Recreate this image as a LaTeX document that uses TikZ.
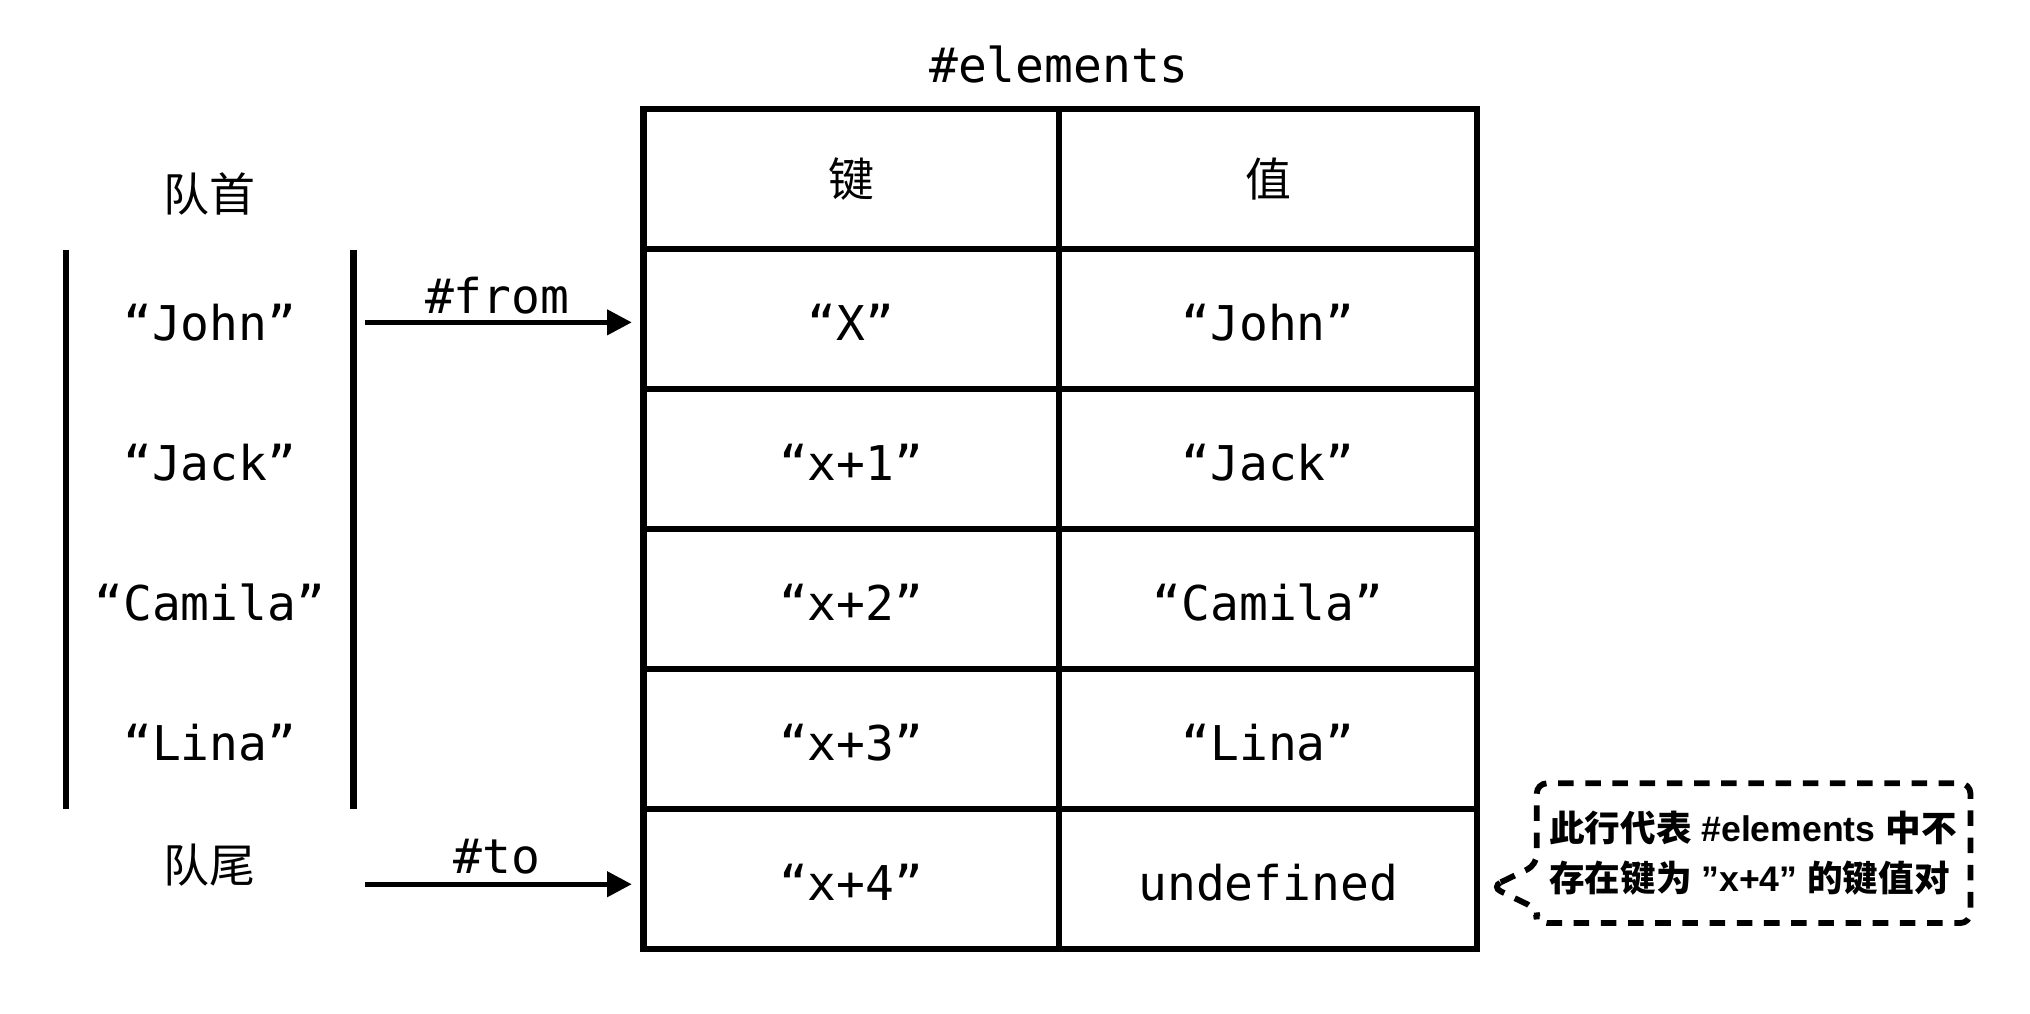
\documentclass[tikz,border=0pt]{standalone}
\usepackage{fontspec}
\setmonofont{DejaVu Sans Mono}
\setsansfont{Liberation Sans}
\newfontfamily\cjk{Noto Sans CJK SC}
\usetikzlibrary{arrows.meta}
\begin{document}
\begin{tikzpicture}[x=1pt,y=-1pt,
  mono/.style={font=\fontsize{37}{40}\selectfont\ttfamily},
  low/.style={text height=33pt, text depth=0pt},
  zh/.style={font=\fontsize{35.5}{40}\selectfont\cjk},
  cell/.style={draw, line width=5pt, minimum height=108.2pt, inner sep=0pt, outer sep=0pt, mono},
  kcell/.style={cell, minimum width=321pt},
  vcell/.style={cell, minimum width=323pt},
  bar/.style={line width=5pt},
  arr/.style={line width=3.9pt, -{Triangle[length=19pt,width=19pt]}, shorten >=9pt},
  note/.style={line width=4.5pt, dash pattern=on 12pt off 9pt, rounded corners=8pt},
  notetext/.style={font=\fontsize{27.5}{39}\selectfont\sffamily\bfseries, align=left, inner sep=0pt},
]
\useasboundingbox (0,0) rectangle (1568,783);

% title
\node[mono] (title) at (818,50) {\#elements};

% table
\node[kcell,zh] (k0) at (657.5,138.1) {键};
\node[vcell,zh] (v0) at (979.5,138.1) {值};
\node[kcell,low] (k1) at (657.5,246.3) {“X”};
\node[vcell,low] (v1) at (979.5,246.3) {“John”};
\node[kcell,low] (k2) at (657.5,354.5) {“x+1”};
\node[vcell,low] (v2) at (979.5,354.5) {“Jack”};
\node[kcell,low] (k3) at (657.5,462.7) {“x+2”};
\node[vcell,low] (v3) at (979.5,462.7) {“Camila”};
\node[kcell,low] (k4) at (657.5,570.9) {“x+3”};
\node[vcell,low] (v4) at (979.5,570.9) {“Lina”};
\node[kcell,low] (k5) at (657.5,679.1) {“x+4”};
\node[vcell,low] (v5) at (979.5,679.1) {undefined};

% queue
\node[zh] (head) at (162,150) {队首};
\node[mono,low] (q1) at (162,246.3) {“John”};
\node[mono,low] (q2) at (162,354.5) {“Jack”};
\node[mono,low] (q3) at (162,462.7) {“Camila”};
\node[mono,low] (q4) at (162,570.9) {“Lina”};
\node[zh] (tail) at (162,668) {队尾};
\draw[bar] (51,193) -- (51,625);
\draw[bar] (273,193) -- (273,625);

% pointers
\coordinate (fs) at (282,249);
\coordinate (ts) at (282,683);
\draw[arr] (fs) -- (fs -| k1.west);
\draw[arr] (ts) -- (ts -| k5.west);
\node[mono] (fromlbl) at (384,228) {\#from};
\node[mono] (tolbl) at (384,662) {\#to};

% callout
\draw[note] (1152,685) -- (1187,668) -- (1187,605) -- (1522,605) -- (1522,713) -- (1187,713) -- (1187,702) -- cycle;
\node[notetext] (note) at (1354,659) {{\cjk 此行代表} \#elements {\cjk 中不}\\{\cjk 存在键为} ”x+4” {\cjk 的键值对}};
\end{tikzpicture}
\end{document}
